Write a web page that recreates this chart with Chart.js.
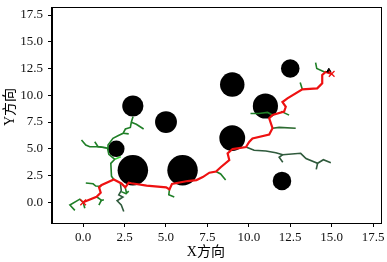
<!DOCTYPE html>
<html>
<head>
<meta charset="utf-8">
<script src="https://cdn.jsdelivr.net/npm/chart.js@4/dist/chart.umd.min.js"></script>
<style>
html,body{margin:0;padding:0;background:#fff;}
#wrap{width:387px;height:262px;}
</style>
</head>
<body>
<div id="wrap"><canvas id="c" width="387" height="262"></canvas></div>
<script>
// ---- data ----
const xTicks = [0, 2.5, 5, 7.5, 10, 12.5, 15, 17.5];
const yTicks = [0, 2.5, 5, 7.5, 10, 12.5, 15, 17.5];
const xTitle = 'X方向';
const yTitle = 'Y方向';

const obstacleX = [3, 5, 2, 3, 6, 9, 11, 9, 12.5, 12];
const obstacleY = [9, 7.5, 5, 3, 3, 11, 9, 6, 12.5, 2];
const obstacleR = [0.64, 0.66, 0.5, 0.92, 0.92, 0.74, 0.76, 0.78, 0.56, 0.56];

const pathX = [0, 0.81, 1.06, 0.96, 1.12, 1.85, 2.31, 2.54, 2.75, 2.91, 3.83, 5.01, 5.21, 5.36, 6.30, 6.84, 7.22, 7.62, 8.02, 8.32, 8.82, 8.72, 9.02, 9.83, 10.02, 10.22, 11.23, 11.43, 11.23, 11.43, 12.13, 12.23, 12.03, 12.33, 13.23, 14.13, 14.43, 14.43, 14.64, 15.0];
const pathY = [0, 0.52, 0.90, 1.40, 1.62, 2.13, 1.76, 1.40, 1.83, 1.78, 1.57, 1.40, 1.21, 1.71, 1.99, 2.08, 2.36, 2.77, 2.88, 3.30, 3.95, 4.58, 4.98, 5.17, 5.64, 5.96, 6.34, 6.92, 7.85, 8.16, 8.47, 8.93, 9.37, 9.72, 10.56, 10.65, 11.12, 11.90, 12.18, 12.0];

const treeBranches = [
  [[0,0],[-0.2,0.3],[-0.8,-0.25],[-0.5,-0.75]],
  [[0,0],[0.1,-0.55]],
  [[0.81,0.52],[1.1,0.2],[0.95,-0.25]],
  [[1.05,0.15],[1.25,0.25]],
  [[1.12,1.62],[1.0,1.5],[0.76,1.52],[0.6,1.73],[0.16,1.8]],
  [[2.25,1.78],[2.3,1.1],[2.15,0.7],[2.4,0.5],[2.05,0.15],[2.3,-0.25],[2.45,-0.85]],
  [[2.3,1.0],[2.6,0.8]],
  [[2.54,1.40],[2.62,0.85],[2.75,1.05]],
  [[1.85,2.13],[1.71,2.45],[1.67,3.64],[1.91,4.02]],
  [[1.91,4.02],[1.55,4.49],[1.47,5.05],[1.5,5.36],[1.8,5.98],[2.1,6.22],[2.41,6.45],[2.55,6.85],[2.85,7.0],[2.91,7.5],[3.01,8.0]],
  [[2.91,7.48],[3.21,7.29],[3.65,6.85]],
  [[2.41,6.45],[2.75,6.4]],
  [[1.47,5.05],[1.0,5.2],[0.4,5.2],[0.16,5.35],[-0.1,5.82]],
  [[1.41,5.1],[0.9,5.2],[0.7,5.66]],
  [[5.21,1.21],[5.17,0.7],[5.5,0.5]],
  [[8.02,2.88],[8.3,2.65],[8.6,2.08]],
  [[9.83,5.17],[10.02,5.05],[10.32,4.87],[11.03,4.8],[11.63,4.64],[12.05,4.45],[13.13,4.58],[13.45,4.1],[14.15,3.65],[14.5,3.98],[14.95,3.7]],
  [[12.05,4.45],[11.83,4.21],[12.05,3.74]],
  [[14.15,3.65],[14.07,3.08]],
  [[11.43,6.92],[11.83,7.0],[12.83,6.92]],
  [[11.43,8.16],[11.13,8.4],[10.6,8.3],[10.1,8.3]],
  [[11.95,8.5],[12.43,8.15]],
  [[13.23,10.56],[13.1,11.2]],
  [[14.6,12.15],[14.1,12.5],[14.03,13.05]]
];
const brightLink = [[1.91,4.02],[2.27,4.26]];

const startPoint = [0, 0];
const goalPoint = [15, 12];
const reachedNode = [14.83, 12.3];

// ---- styles ----
const branchColors = treeBranches.map((b, i) => {
  if (i === 5 || i === 16 || i === 17 || i === 18) return '#2f5a3c';
  if (i === 19) return '#2c6b30';
  return '#1f7f27';
});

const toXY = arr => arr.map(p => ({x: p[0], y: p[1]}));

const datasets = [];
datasets.push({
  label: 'obstacles',
  data: obstacleX.map((x, i) => ({x: x, y: obstacleY[i], r: obstacleR[i]})),
  backgroundColor: '#000',
  borderColor: '#000',
  borderWidth: 0,
  pointRadius: ctx => {
    const c = ctx.chart;
    const sx = c.scales.x;
    if (!sx || !ctx.raw) return 0;
    return ctx.raw.r * (sx.getPixelForValue(1) - sx.getPixelForValue(0));
  },
  pointHoverRadius: 0,
  showLine: false,
  order: 10
});
treeBranches.forEach((b, i) => {
  datasets.push({
    label: 'tree' + i,
    data: toXY(b),
    showLine: true,
    borderColor: branchColors[i],
    borderWidth: 1.6,
    pointRadius: 0,
    fill: false,
    order: 5
  });
});
datasets.push({
  label: 'link',
  data: toXY(brightLink),
  showLine: true,
  borderColor: '#3ad23a',
  borderWidth: 1.6,
  pointRadius: 0,
  order: 5
});
datasets.push({
  label: 'path',
  data: pathX.map((x, i) => ({x: x, y: pathY[i]})),
  showLine: true,
  borderColor: '#ee1111',
  borderWidth: 2.2,
  pointRadius: 0,
  order: 2
});
datasets.push({
  label: 'reached',
  data: [{x: reachedNode[0], y: reachedNode[1]}],
  pointStyle: 'triangle',
  pointRadius: 2.5,
  backgroundColor: '#000',
  borderColor: '#000',
  showLine: false,
  order: 1
});
datasets.push({
  label: 'ends',
  data: [{x: startPoint[0], y: startPoint[1]}, {x: goalPoint[0], y: goalPoint[1]}],
  pointStyle: 'crossRot',
  pointRadius: 4,
  borderColor: '#ee1111',
  borderWidth: 1.3,
  showLine: false,
  order: 0
});

const frame = {
  id: 'frame',
  afterDraw(chart) {
    const a = chart.chartArea, ctx = chart.ctx;
    ctx.save();
    ctx.strokeStyle = '#000';
    ctx.lineWidth = 1;
    ctx.strokeRect(Math.round(a.left) - 0.5, Math.round(a.top) + 0.5, Math.round(a.right - a.left), Math.round(a.bottom - a.top));
    // axis titles
    ctx.fillStyle = '#000';
    ctx.font = '14px "Liberation Serif", "Noto Sans CJK SC", serif';
    ctx.textAlign = 'center';
    ctx.textBaseline = 'middle';
    ctx.fillText(xTitle, (a.left + a.right) / 2 - 11, a.bottom + 29);
    ctx.translate(10, (a.top + a.bottom) / 2 - 8);
    ctx.rotate(-Math.PI / 2);
    ctx.fillText(yTitle, 0, 0);
    ctx.restore();
  }
};

const tickFont = {family: '"Liberation Serif", serif', size: 13};

new Chart(document.getElementById('c'), {
  type: 'scatter',
  data: {datasets: datasets},
  options: {
    responsive: false,
    animation: false,
    events: [],
    layout: {padding: {top: 7, right: 4, left: 0, bottom: 0}},
    plugins: {legend: {display: false}, tooltip: {enabled: false}},
    scales: {
      x: {
        type: 'linear',
        min: -1.88, max: 18.02,
        afterBuildTicks: s => { s.ticks = xTicks.map(v => ({value: v})); },
        afterFit: s => { s.height = 39; s.paddingLeft = 0; s.paddingRight = 0; },
        ticks: {font: tickFont, color: '#111', padding: 3, autoSkip: false, maxRotation: 0,
                callback: v => Number(v).toFixed(1)},
        grid: {display: true, drawOnChartArea: false, drawTicks: true, tickLength: 4, color: '#000'},
        border: {display: true, color: '#000', width: 1}
      },
      y: {
        type: 'linear',
        min: -1.93, max: 18.25,
        afterBuildTicks: s => { s.ticks = yTicks.map(v => ({value: v})); },
        afterFit: s => { s.width = 52; s.paddingTop = 0; s.paddingBottom = 0; },
        ticks: {font: tickFont, color: '#111', padding: 5, autoSkip: false,
                callback: v => Number(v).toFixed(1)},
        grid: {display: true, drawOnChartArea: false, drawTicks: true, tickLength: 4, color: '#000'},
        border: {display: true, color: '#000', width: 1}
      }
    }
  },
  plugins: [frame]
});
</script>
</body>
</html>
